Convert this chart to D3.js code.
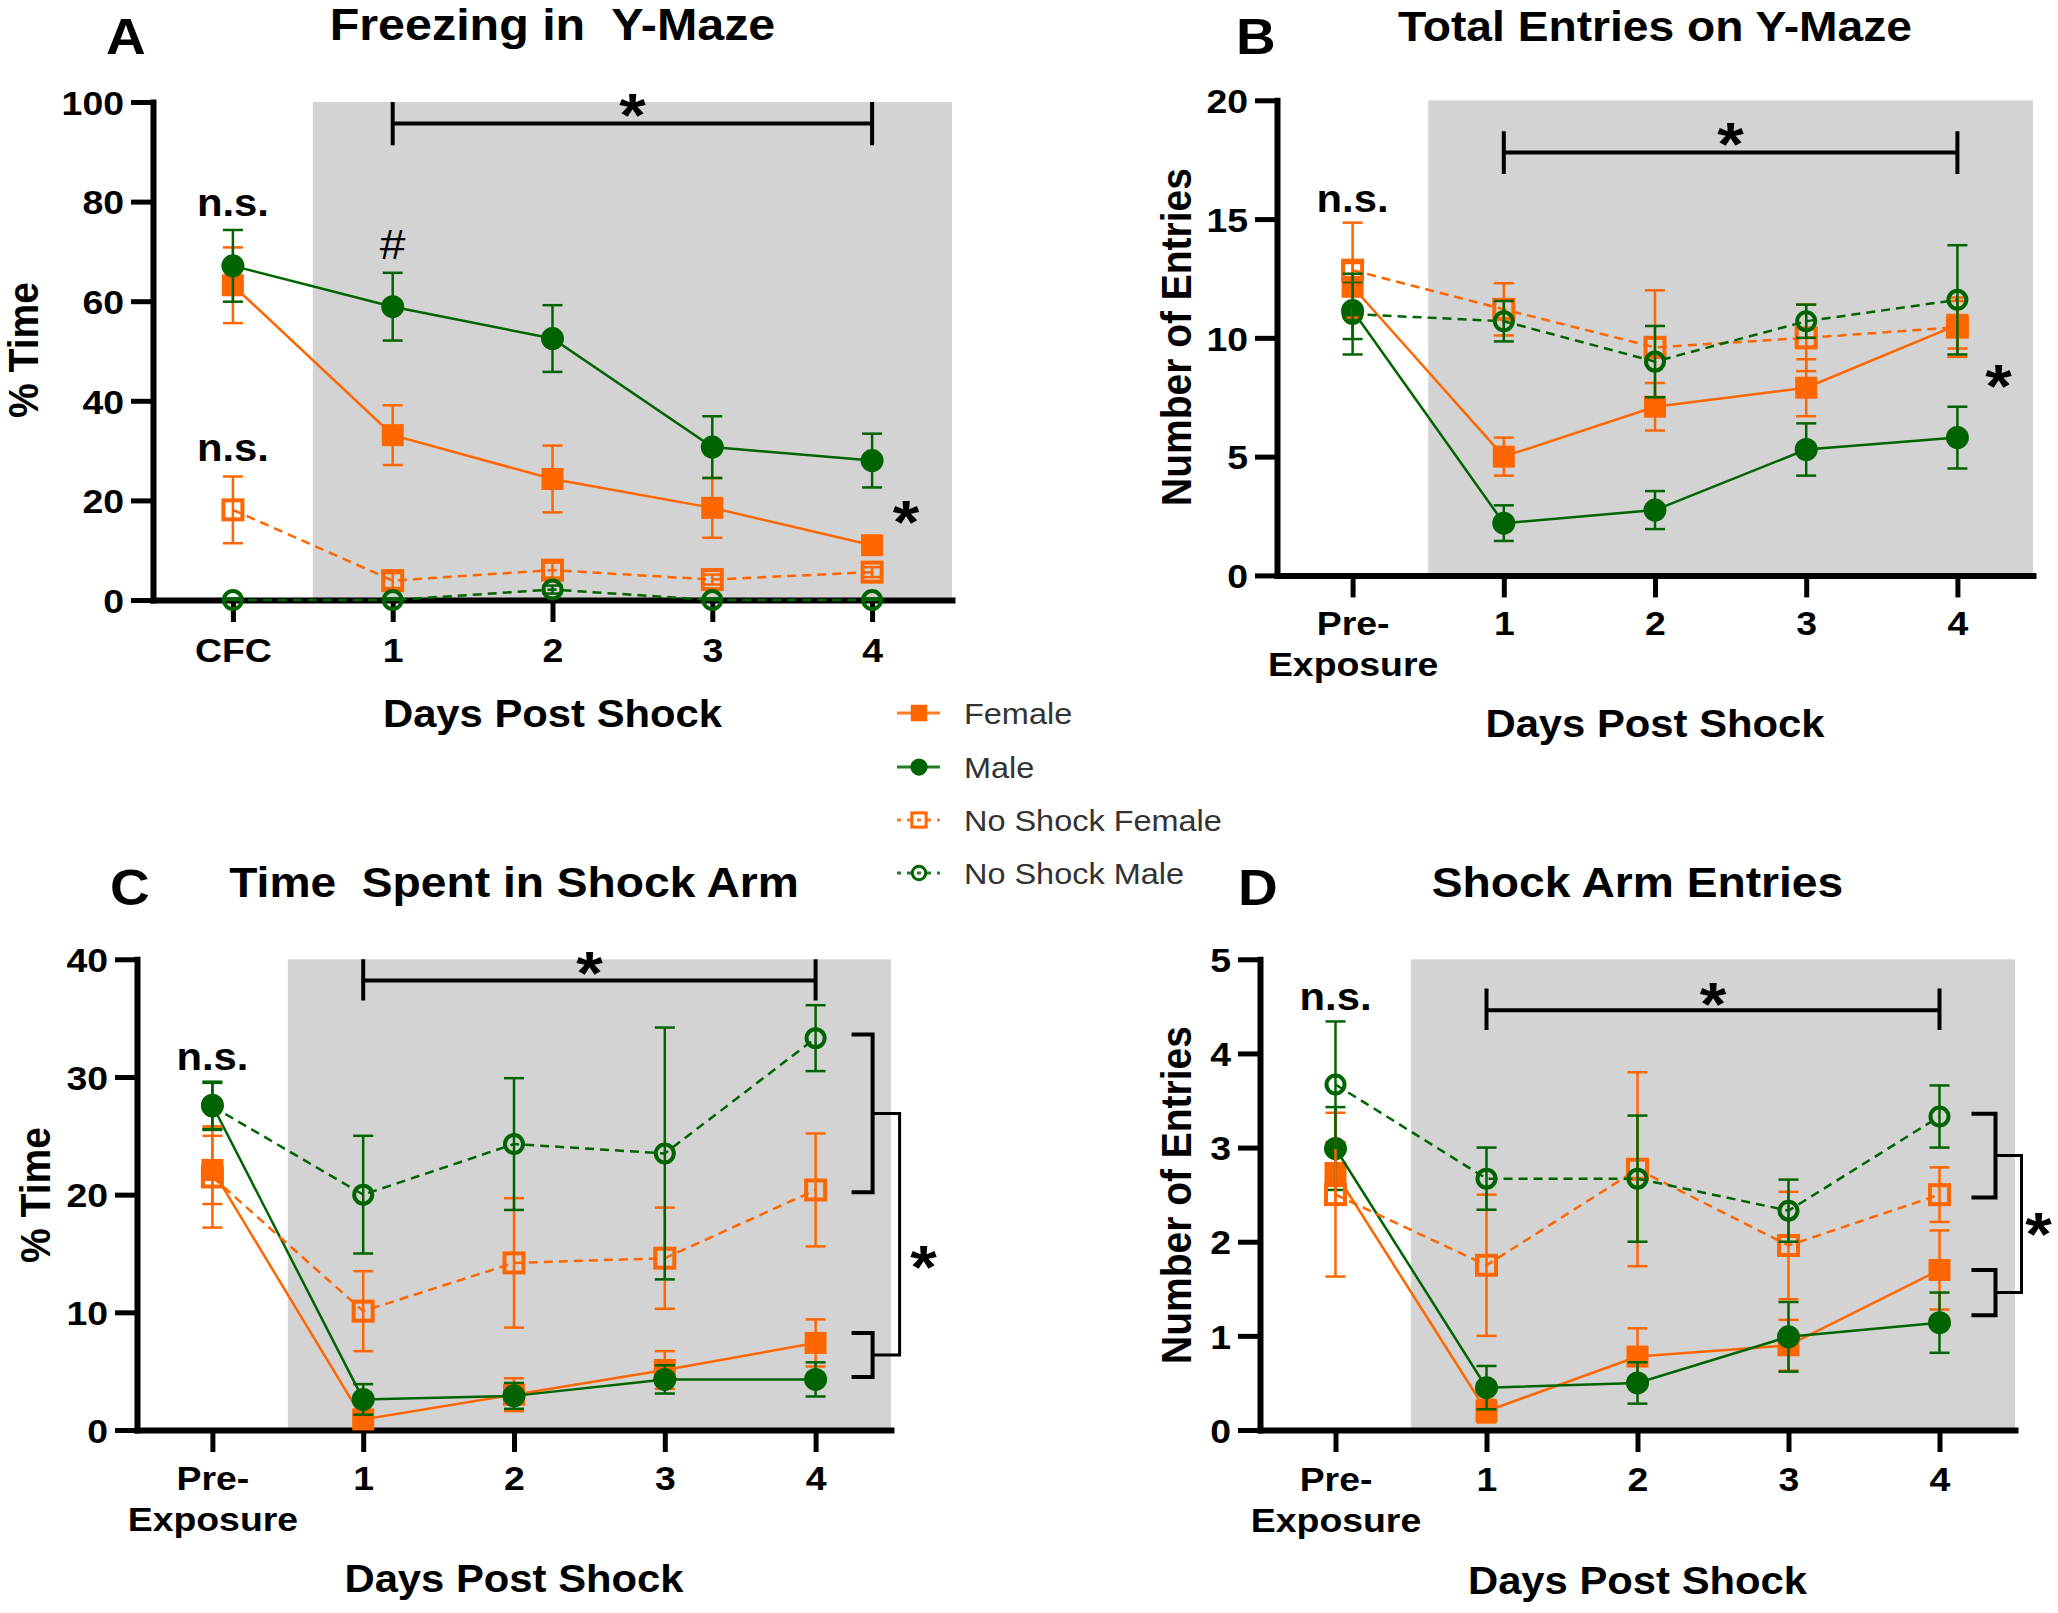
<!DOCTYPE html>
<html><head><meta charset="utf-8">
<script src="https://cdn.jsdelivr.net/npm/d3@7"></script>
<style>body{margin:0;background:#fff} text{font-family:"Liberation Sans",Arial,Helvetica,sans-serif}</style>
</head><body><svg id="c" width="2058" height="1613"></svg>
<script>
// ---------------- data ----------------
const catsA = ["CFC","1","2","3","4"];
const catsPre = ["Pre-Exposure","1","2","3","4"];
const tickLabelsA = [["CFC"],["1"],["2"],["3"],["4"]];
const tickLabelsPre = [["Pre-","Exposure"],["1"],["2"],["3"],["4"]];
const seriesNames = ["Female","Male","No Shock Female","No Shock Male"];

// A: Freezing in Y-Maze (% time)
const femaleA = [63.2, 33.1, 24.3, 18.5, 11.0];
const femaleAErr = [7.6, 6.0, 6.7, 6.0, 1.5];
const maleA = [67.1, 58.9, 52.5, 30.7, 28.0];
const maleAErr = [7.2, 6.8, 6.7, 6.2, 5.4];
const nsFemaleA = [18.1, 3.9, 6.0, 4.1, 5.6];
const nsFemaleAErr = [6.7, 1.5, 1.5, 1.0, 1.0];
const nsMaleA = [0, 0, 2.1, 0, 0];
const nsMaleAErr = [0.3, 0.3, 0.8, 0.3, 0.3];
const ticksA = [0,20,40,60,80,100];

// B: Total entries on Y-Maze
const femaleB = [12.15, 5.0, 7.1, 7.9, 10.55];
const femaleBErr = [1.0, 0.8, 1.0, 1.2, 1.0];
const maleB = [11.15, 2.2, 2.75, 5.3, 5.8];
const maleBErr = [1.2, 0.75, 0.8, 1.1, 1.3];
const nsFemaleB = [12.85, 11.2, 9.6, 10.0, 10.45];
const nsFemaleBErr = [2.0, 1.1, 2.4, 1.4, 1.25];
const nsMaleB = [11.0, 10.7, 9.0, 10.7, 11.6];
const nsMaleBErr = [1.7, 0.85, 1.5, 0.7, 2.3];
const ticksB = [0,5,10,15,20];

// C: Time spent in shock arm (% time)
const femaleC = [22.1, 0.9, 3.0, 5.1, 7.4];
const femaleCErr = [2.9, 0.5, 1.4, 1.6, 2.0];
const maleC = [27.6, 2.6, 2.9, 4.3, 4.3];
const maleCErr = [2.0, 1.3, 1.1, 1.2, 1.45];
const nsFemaleC = [21.5, 10.1, 14.2, 14.6, 20.4];
const nsFemaleCErr = [4.3, 3.4, 5.5, 4.3, 4.8];
const nsMaleC = [27.5, 20.0, 24.3, 23.5, 33.3];
const nsMaleCErr = [2.0, 5.0, 5.6, 10.7, 2.8];
const ticksC = [0,10,20,30,40];

// D: Shock arm entries
const femaleD = [2.73, 0.2, 0.78, 0.9, 1.7];
const femaleDErr = [0.33, 0.12, 0.3, 0.27, 0.42];
const maleD = [2.99, 0.45, 0.5, 0.99, 1.14];
const maleDErr = [0.44, 0.23, 0.22, 0.37, 0.32];
const nsFemaleD = [2.5, 1.75, 2.77, 1.96, 2.5];
const nsFemaleDErr = [0.87, 0.75, 1.03, 0.57, 0.29];
const nsMaleD = [3.67, 2.67, 2.67, 2.33, 3.33];
const nsMaleDErr = [0.67, 0.33, 0.67, 0.33, 0.33];
const ticksD = [0,1,2,3,4,5];

// annotation levels (data units)
const nsLevelsA = [77.1, 28.0];
const nsLevelsB = [15.3];
const nsLevelsC = [30.6];
const nsLevelsD = [4.46];
const hashLevelA = 68.5;
const topBracketA = [95.7, 100, 91.3, 100.2];   // horizontal, tick top, tick bottom, star
const topBracketB = [17.8, 18.7, 16.9, 18.75];
const topBracketC = [38.2, 40, 36.5, 40.0];
const topBracketD = [4.46, 4.69, 4.25, 4.67];
const sideStarA = 18.5, sideStarB = 8.55, sideStarC = 15.05, sideStarD = 2.23;
const sideBracketsC = [[33.6, 20.2],[8.25, 4.5]];
const sideBracketsD = [[3.36, 2.47],[1.70, 1.22]];

// ---------------- style ----------------
const ORANGE = "#FF6600", GREEN = "#006400", BG = "#D3D3D3";
const SX = 1.1;
const styles = [
  {color:ORANGE, shape:"square", filled:true,  dash:null},
  {color:GREEN,  shape:"circle", filled:true,  dash:null},
  {color:ORANGE, shape:"square", filled:false, dash:"9,6"},
  {color:GREEN,  shape:"circle", filled:false, dash:"9,6"}
];

const svg = d3.select("#c");
svg.append("rect").attr("width",2058).attr("height",1613).attr("fill","#fff");

function txt(g, x, y, s, fs, o={}) {
  return g.append("text")
    .attr("transform", `translate(${x},${y}) scale(${o.sx ?? SX},1)` + (o.rot ? ` rotate(${o.rot})` : ""))
    .attr("text-anchor", o.anchor || "middle")
    .attr("font-size", fs)
    .attr("font-weight", o.fw || "bold")
    .attr("fill", o.fill || "#000")
    .style("white-space", "pre")
    .text(s);
}

function marker(g, cx, cy, st, size) {
  const s = size || 1;
  if (st.shape === "square") {
    if (st.filled) {
      const a = 22*s;
      g.append("rect").attr("x",cx-a/2).attr("y",cy-a/2).attr("width",a).attr("height",a).attr("fill",st.color);
    } else {
      const a = 19*s;
      g.append("rect").attr("x",cx-a/2).attr("y",cy-a/2).attr("width",a).attr("height",a)
        .attr("fill","none").attr("stroke",st.color).attr("stroke-width",4*s);
    }
  } else {
    if (st.filled) {
      g.append("circle").attr("cx",cx).attr("cy",cy).attr("r",11.5*s).attr("fill",st.color);
    } else {
      g.append("circle").attr("cx",cx).attr("cy",cy).attr("r",9*s)
        .attr("fill","none").attr("stroke",st.color).attr("stroke-width",4*s);
    }
  }
}

function drawPanel(p) {
  const g = svg.append("g");
  const x = d3.scalePoint().domain(p.cats).range(p.xr).padding(0.5);
  const y = d3.scaleLinear().domain(p.yDomain).range(p.yr);
  const step = x.step();

  // shaded post-shock region
  g.append("rect")
    .attr("x", x(p.cats[1]) - step/2).attr("y", y(p.yDomain[1]))
    .attr("width", p.xr[1] - (x(p.cats[1]) - step/2)).attr("height", y(p.yDomain[0]) - y(p.yDomain[1]))
    .attr("fill", BG);

  // axes
  const ya = g.append("g").attr("transform", `translate(${p.xr[0]},0)`)
    .call(d3.axisLeft(y).tickValues(p.yTicks).tickFormat(d3.format("d")).tickSize(22).tickSizeOuter(0).tickPadding(7));
  const xa = g.append("g").attr("transform", `translate(0,${p.yr[0]})`)
    .call(d3.axisBottom(x).tickSize(22).tickSizeOuter(0).tickFormat(""));
  [ya, xa].forEach(a => {
    a.select(".domain").attr("stroke","#000").attr("stroke-width",6).attr("stroke-linecap","square");
    a.selectAll(".tick line").attr("stroke","#000").attr("stroke-width",5);
  });
  ya.selectAll(".tick text")
    .attr("font-size",34).attr("font-weight","bold").attr("fill","#000")
    .attr("font-family","Liberation Sans, Arial, sans-serif")
    .attr("x", -29/SX).attr("dy","0.36em").attr("transform",`scale(${SX},1)`);
  // category labels
  xa.selectAll(".tick").each(function(d, i) {
    const t = d3.select(this).append("text")
      .attr("transform", `scale(${SX},1)`).attr("text-anchor","middle")
      .attr("font-size",34).attr("font-weight","bold").attr("fill","#000")
      .attr("font-family","Liberation Sans, Arial, sans-serif");
    p.labels[i].forEach((line, k) => {
      t.append("tspan").attr("x",0).attr("y", p.tickBase + k*41).text(line);
    });
  });

  // series
  p.series.forEach((vals, si) => {
    const st = styles[si], errs = p.errs[si];
    const sg = g.append("g");
    vals.forEach((v, j) => {
      const cx = x(p.cats[j]), e = errs[j];
      const y1 = y(v + e), y2 = y(Math.max(0, v - e));
      sg.append("line").attr("x1",cx).attr("x2",cx).attr("y1",y1).attr("y2",y2).attr("stroke",st.color).attr("stroke-width",2.5);
      [y1, y2].forEach(yy => sg.append("line").attr("x1",cx-10).attr("x2",cx+10).attr("y1",yy).attr("y2",yy)
        .attr("stroke",st.color).attr("stroke-width",2.5));
    });
    sg.append("path")
      .attr("d", d3.line().x((v,j) => x(p.cats[j])).y(v => y(v))(vals))
      .attr("fill","none").attr("stroke",st.color).attr("stroke-width",2.5)
      .attr("stroke-dasharray", st.dash);
    vals.forEach((v, j) => marker(sg, x(p.cats[j]), y(v), st));
  });

  // titles
  txt(g, (x(p.cats[0]) + x(p.cats[4]))/2, p.titleY, p.title, p.titleFs || 42);
  txt(g, p.letter[0], p.letter[1], p.id, 50, {anchor:"start"});
  txt(g, p.yLabelPos[0] + 0.36*39*SX, p.yLabelPos[1], p.yLabel, 39, {rot:-90});
  txt(g, (x(p.cats[0]) + x(p.cats[4]))/2, p.xLabelY, "Days Post Shock", 38);

  // annotations
  p.ns.forEach(v => txt(g, x(p.cats[0]), y(v), "n.s.", 38));
  if (p.hash != null) txt(g, x(p.cats[1]), y(p.hash), "#", 42, {fw:"normal"});
  const [bh, bt, bb, bs] = p.top;
  const xb1 = x(p.cats[1]), xb2 = x(p.cats[4]);
  g.append("path")
    .attr("d", `M${xb1},${y(bt)}V${y(bb)}M${xb1},${y(bh)}H${xb2}M${xb2},${y(bt)}V${y(bb)}`)
    .attr("fill","none").attr("stroke","#000").attr("stroke-width",4);
  const star = (cx, cy) => txt(g, cx, cy + 0.56*62, "*", 62);
  star((xb1 + xb2)/2, y(bs));
  star(xb2 + p.sideStarDx, y(p.sideStar));
  if (p.side) {
    const [o1, o2, o3] = p.sideX;
    const xl = xb2 + o1, xr = xb2 + o2, xo = xb2 + o3;
    const mids = p.side.map(([a, b]) => {
      g.append("path").attr("d", `M${xl},${y(a)}H${xr}V${y(b)}H${xl}`)
        .attr("fill","none").attr("stroke","#000").attr("stroke-width",4);
      return (y(a) + y(b))/2;
    });
    g.append("path").attr("d", `M${xr},${mids[0]}H${xo}V${mids[1]}H${xr}`)
      .attr("fill","none").attr("stroke","#000").attr("stroke-width",3);
  }
}

const panels = [
  {id:"A", title:"Freezing in  Y-Maze", titleFs:44, cats:catsA, labels:tickLabelsA, yDomain:[0,100], yTicks:ticksA,
   yLabel:"% Time", xr:[153,952], yr:[600,102], tickBase:62, titleY:40, letter:[106,54],
   yLabelPos:[23,350], xLabelY:727,
   series:[femaleA, maleA, nsFemaleA, nsMaleA], errs:[femaleAErr, maleAErr, nsFemaleAErr, nsMaleAErr],
   ns:nsLevelsA, hash:hashLevelA, top:topBracketA, sideStar:sideStarA, sideStarDx:34},
  {id:"B", title:"Total Entries on Y-Maze", cats:catsPre, labels:tickLabelsPre, yDomain:[0,20], yTicks:ticksB,
   yLabel:"Number of Entries", xr:[1277,2033], yr:[575.4,100.3], tickBase:60, titleY:41, letter:[1236,54],
   yLabelPos:[1176,337], xLabelY:737,
   series:[femaleB, maleB, nsFemaleB, nsMaleB], errs:[femaleBErr, maleBErr, nsFemaleBErr, nsMaleBErr],
   ns:nsLevelsB, hash:null, top:topBracketB, sideStar:sideStarB, sideStarDx:41},
  {id:"C", title:"Time  Spent in Shock Arm", cats:catsPre, labels:tickLabelsPre, yDomain:[0,40], yTicks:ticksC,
   yLabel:"% Time", xr:[137,891], yr:[1430,959.3], tickBase:60, titleY:897, letter:[110,905],
   yLabelPos:[35,1195], xLabelY:1592,
   series:[femaleC, maleC, nsFemaleC, nsMaleC], errs:[femaleCErr, maleCErr, nsFemaleCErr, nsMaleCErr],
   ns:nsLevelsC, hash:null, top:topBracketC, sideStar:sideStarC, sideStarDx:108,
   side:sideBracketsC, sideX:[36,57,84]},
  {id:"D", title:"Shock Arm Entries", cats:catsPre, labels:tickLabelsPre, yDomain:[0,5], yTicks:ticksD,
   yLabel:"Number of Entries", xr:[1260,2015], yr:[1430,959.3], tickBase:61, titleY:897, letter:[1238,905],
   yLabelPos:[1176,1195], xLabelY:1594,
   series:[femaleD, maleD, nsFemaleD, nsMaleD], errs:[femaleDErr, maleDErr, nsFemaleDErr, nsMaleDErr],
   ns:nsLevelsD, hash:null, top:topBracketD, sideStar:sideStarD, sideStarDx:99,
   side:sideBracketsD, sideX:[32,56,82]}
];
panels.forEach(drawPanel);

// legend
const lg = svg.append("g");
const legendRows = [713, 767, 820, 873];
seriesNames.forEach((name, i) => {
  const st = styles[i], yy = legendRows[i];
  lg.append("line").attr("x1",897).attr("x2",940).attr("y1",yy).attr("y2",yy)
    .attr("stroke",st.color).attr("stroke-width",3).attr("stroke-opacity",0.85)
    .attr("stroke-dasharray", st.dash ? "4,6" : null);
  marker(lg, 919, yy, st, 0.75);
  txt(lg, 964, yy + 11, name, 29.5, {anchor:"start", fw:"normal", fill:"#333"});
});
</script></body></html>
